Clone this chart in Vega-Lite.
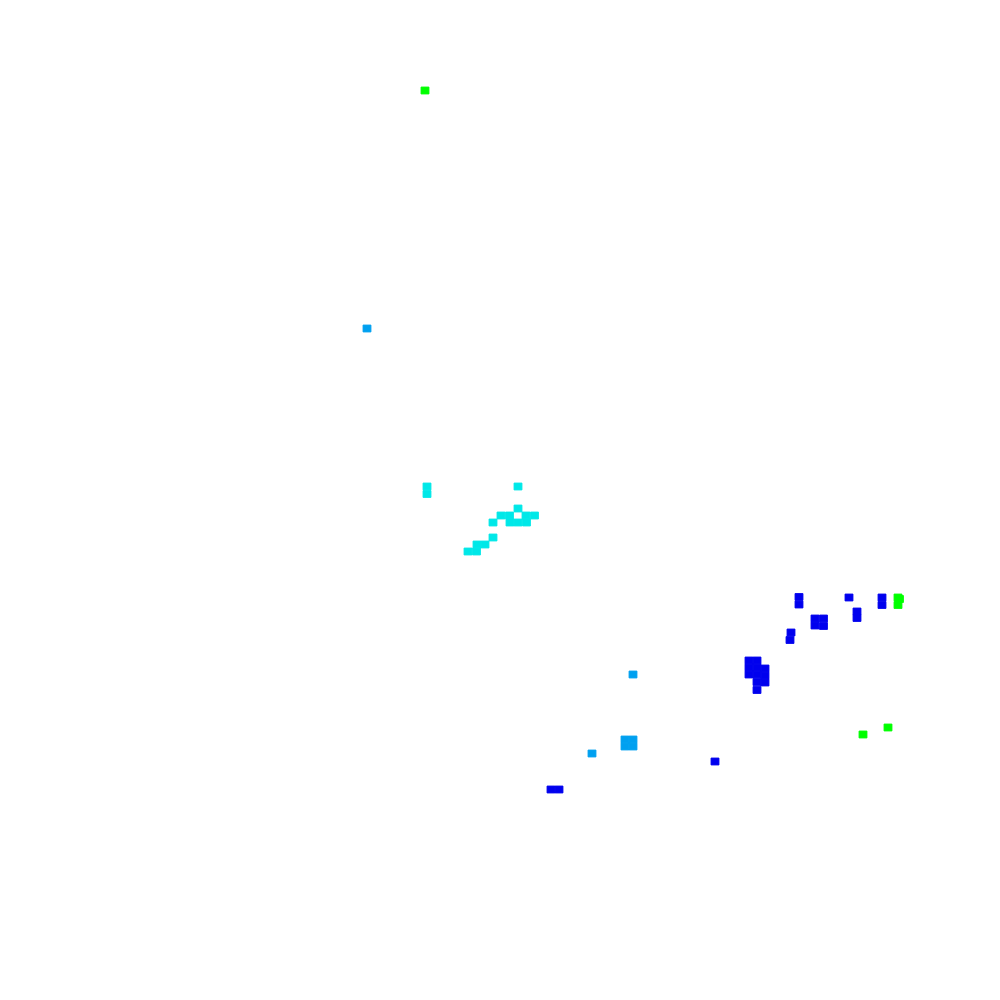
{
  "$schema": "https://vega.github.io/schema/vega-lite/v6.json",
  "width": 1000,
  "height": 1000,
  "autosize": {"type": "fit", "contains": "padding"},
  "padding": 0,
  "background": "white",
  "view": {"stroke": null},
  "data": {
    "values": [
      {"x": 42.5, "y": 9.05, "g": "green"},
      {"x": 89.8, "y": 59.75, "g": "green"},
      {"x": 89.8, "y": 60.5, "g": "green"},
      {"x": 89.95, "y": 59.9, "g": "green"},
      {"x": 86.3, "y": 73.45, "g": "green"},
      {"x": 88.8, "y": 72.75, "g": "green"},
      {"x": 36.7, "y": 32.85, "g": "sky"},
      {"x": 63.3, "y": 67.45, "g": "sky"},
      {"x": 62.5, "y": 73.95, "g": "sky"},
      {"x": 63.3, "y": 73.95, "g": "sky"},
      {"x": 62.5, "y": 74.65, "g": "sky"},
      {"x": 63.3, "y": 74.65, "g": "sky"},
      {"x": 59.2, "y": 75.35, "g": "sky"},
      {"x": 42.7, "y": 48.65, "g": "cyan"},
      {"x": 42.7, "y": 49.4, "g": "cyan"},
      {"x": 51.8, "y": 48.65, "g": "cyan"},
      {"x": 51.8, "y": 50.85, "g": "cyan"},
      {"x": 50.1, "y": 51.55, "g": "cyan"},
      {"x": 50.95, "y": 51.55, "g": "cyan"},
      {"x": 52.6, "y": 51.55, "g": "cyan"},
      {"x": 53.45, "y": 51.55, "g": "cyan"},
      {"x": 49.3, "y": 52.25, "g": "cyan"},
      {"x": 51.0, "y": 52.25, "g": "cyan"},
      {"x": 51.8, "y": 52.25, "g": "cyan"},
      {"x": 52.65, "y": 52.25, "g": "cyan"},
      {"x": 49.3, "y": 53.75, "g": "cyan"},
      {"x": 47.7, "y": 54.45, "g": "cyan"},
      {"x": 48.5, "y": 54.45, "g": "cyan"},
      {"x": 46.8, "y": 55.15, "g": "cyan"},
      {"x": 47.65, "y": 55.15, "g": "cyan"},
      {"x": 79.9, "y": 59.7, "g": "blue"},
      {"x": 79.9, "y": 60.45, "g": "blue"},
      {"x": 81.5, "y": 61.85, "g": "blue"},
      {"x": 82.35, "y": 61.85, "g": "blue"},
      {"x": 81.5, "y": 62.55, "g": "blue"},
      {"x": 82.35, "y": 62.6, "g": "blue"},
      {"x": 79.1, "y": 63.25, "g": "blue"},
      {"x": 79.0, "y": 64.0, "g": "blue"},
      {"x": 84.9, "y": 59.75, "g": "blue"},
      {"x": 85.7, "y": 61.15, "g": "blue"},
      {"x": 85.7, "y": 61.8, "g": "blue"},
      {"x": 88.2, "y": 59.75, "g": "blue"},
      {"x": 88.2, "y": 60.5, "g": "blue"},
      {"x": 74.9, "y": 66.05, "g": "blue"},
      {"x": 75.7, "y": 66.05, "g": "blue"},
      {"x": 74.9, "y": 66.75, "g": "blue"},
      {"x": 75.7, "y": 66.75, "g": "blue"},
      {"x": 74.9, "y": 67.45, "g": "blue"},
      {"x": 75.7, "y": 67.45, "g": "blue"},
      {"x": 76.5, "y": 66.85, "g": "blue"},
      {"x": 76.5, "y": 67.55, "g": "blue"},
      {"x": 76.5, "y": 68.25, "g": "blue"},
      {"x": 75.7, "y": 68.2, "g": "blue"},
      {"x": 75.7, "y": 69.0, "g": "blue"},
      {"x": 71.5, "y": 76.15, "g": "blue"},
      {"x": 55.1, "y": 78.95, "g": "blue"},
      {"x": 55.9, "y": 78.95, "g": "blue"}
    ]
  },
  "mark": {"type": "rect", "width": 7.9, "height": 6.9, "strokeWidth": 0.9},
  "encoding": {
    "x": {"field": "x", "type": "quantitative", "scale": {"domain": [0, 100], "nice": false, "zero": false}, "axis": null},
    "y": {"field": "y", "type": "quantitative", "scale": {"domain": [0, 100], "reverse": true, "nice": false, "zero": false}, "axis": null},
    "color": {
      "field": "g",
      "type": "nominal",
      "scale": {"domain": ["blue", "sky", "cyan", "green"], "range": ["#0000ee", "#00a0f0", "#00e8e8", "#00ff00"]},
      "legend": null
    },
    "stroke": {
      "field": "g",
      "type": "nominal",
      "scale": {"domain": ["blue", "sky", "cyan", "green"], "range": ["#0000ee", "#00a0f0", "#00e8e8", "#00ff00"]},
      "legend": null
    }
  }
}
